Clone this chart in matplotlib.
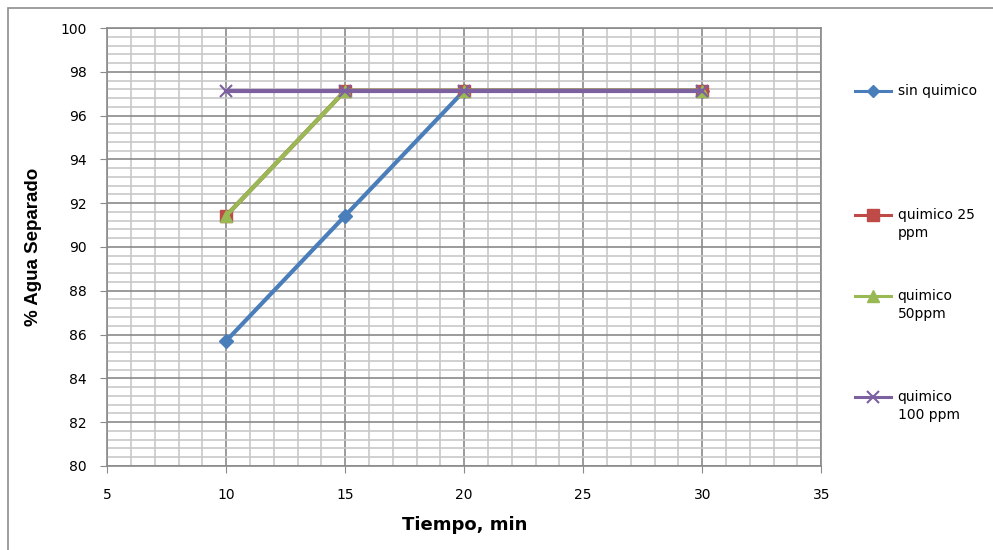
import matplotlib
matplotlib.use("Agg")
import matplotlib.pyplot as plt
from matplotlib.ticker import MultipleLocator
from matplotlib.patches import Rectangle
from matplotlib.lines import Line2D

# tiempo de separacion (min) y % de agua separada por tratamiento
tiempo = [10, 15, 20, 30]
sin_quimico = [85.71, 91.43, 97.14, 97.14]
quimico_25 = [91.43, 97.14, 97.14, 97.14]
quimico_50 = [91.43, 97.14, 97.14, 97.14]
quimico_100 = [97.14, 97.14, 97.14, 97.14]

etiquetas = ["sin quimico", "quimico 25\nppm", "quimico\n50ppm", "quimico\n100 ppm"]

plt.rcParams["font.family"] = ["DejaVu Sans"]

fig = plt.figure(figsize=(9.93, 5.5), dpi=100)
ax = fig.add_axes([0.108, 0.153, 0.719, 0.796])

# marco exterior del grafico (abierto a la derecha y abajo)
fig.patches.append(Rectangle((0.008, -0.05), 1.05, 1.035, transform=fig.transFigure,
                             fill=False, edgecolor="#8c8c8c", linewidth=1.2))

estilos = [
    dict(color="#4a7ebb", marker="D", ms=7),
    dict(color="#be4b48", marker="s", ms=9),
    dict(color="#98b954", marker="^", ms=9),
    dict(color="#7d60a0", marker="x", ms=9, mew=1.5),
]
series = [sin_quimico, quimico_25, quimico_50, quimico_100]

for valores, est, lab in zip(series, estilos, etiquetas):
    ax.plot(tiempo, valores, lw=3, label=lab, zorder=3, **est)

ax.set_xlim(5, 35)
ax.set_ylim(80, 100)
ax.xaxis.set_major_locator(MultipleLocator(5))
ax.xaxis.set_minor_locator(MultipleLocator(1))
ax.yaxis.set_major_locator(MultipleLocator(2))
ax.yaxis.set_minor_locator(MultipleLocator(0.4))

ax.grid(which="major", color="#8a8a8a", lw=1.2, zorder=1)
ax.grid(which="minor", color="#c8c8c8", lw=1.2, zorder=0)
ax.set_axisbelow(True)

for s in ax.spines.values():
    s.set_color("#8a8a8a")
    s.set_linewidth(1.2)

ax.tick_params(which="major", direction="out", length=5, color="#8a8a8a",
               labelsize=10, pad=10)
ax.tick_params(which="minor", length=0)
ax.tick_params(axis="x", pad=11)

ax.set_xlabel("Tiempo, min", fontsize=13, fontweight="bold", labelpad=10)
ax.set_ylabel("% Agua Separado", fontsize=13.5, fontweight="bold",
              family=["Liberation Sans", "DejaVu Sans"], labelpad=13)

# leyenda a la derecha: simbolo alineado con la primera linea del texto
leg_y = [91, 215, 296, 397]
for y_px, est, lab in zip(leg_y, estilos, etiquetas):
    yf = 1 - y_px / 550
    fig.add_artist(Line2D([0.861, 0.897], [yf, yf], lw=2.2, color=est["color"],
                          transform=fig.transFigure))
    fig.add_artist(Line2D([0.879], [yf], lw=0, transform=fig.transFigure,
                          color=est["color"], marker=est["marker"],
                          ms=est["ms"] - 1, mew=est.get("mew", 1)))
    fig.text(0.904, yf + 0.012, lab, fontsize=10, va="top", ha="left",
             linespacing=1.35)

fig.savefig("out.png", dpi=100)
